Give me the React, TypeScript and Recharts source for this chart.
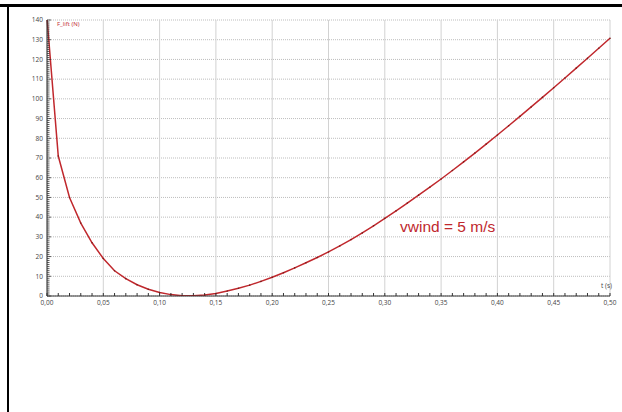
import React from 'react';
import { LineChart, Line, XAxis, YAxis, CartesianGrid } from 'recharts';

const tValues = [
  0.0, 0.01, 0.02, 0.03, 0.04, 0.05, 0.06, 0.07, 0.08, 0.09,
  0.1, 0.11, 0.12, 0.13, 0.14, 0.15, 0.16, 0.17, 0.18, 0.19,
  0.2, 0.21, 0.22, 0.23, 0.24, 0.25, 0.26, 0.27, 0.28, 0.29,
  0.3, 0.31, 0.32, 0.33, 0.34, 0.35, 0.36, 0.37, 0.38, 0.39,
  0.4, 0.41, 0.42, 0.43, 0.44, 0.45, 0.46, 0.47, 0.48, 0.49, 0.5,
];
const fLift = [
  141, 71, 50, 37, 27, 19, 12.8, 8.8, 5.7, 3.4,
  1.8, 0.7, 0.15, 0.1, 0.5, 1.3, 2.5, 3.9, 5.5, 7.4,
  9.5, 11.8, 14.25, 16.85, 19.55, 22.35, 25.4, 28.6, 32.0, 35.6,
  39.35, 43.2, 47.15, 51.15, 55.2, 59.35, 63.65, 68.05, 72.5, 77.05,
  81.65, 86.35, 91.1, 95.9, 100.75, 105.65, 110.6, 115.6, 120.6, 125.7, 130.75,
];

const xTicks = [0, 0.05, 0.1, 0.15, 0.2, 0.25, 0.3, 0.35, 0.4, 0.45, 0.5];
const yTicks = [0, 10, 20, 30, 40, 50, 60, 70, 80, 90, 100, 110, 120, 130, 140];
const xMinorTicks = Array.from({ length: 51 }, (_, i) => i / 100);
const yMinorTicks = Array.from({ length: 141 }, (_, i) => i);

const data = tValues.map((t, i) => ({ t, f: fLift[i] }));

const RED = '#c0282d';
const LABEL = '#444';
const fmt = (v: number) => v.toFixed(2).replace('.', ',');
const blank = () => '';

const YTick = (props: any) => {
  const { x, y, payload } = props;
  const v = payload.value;
  const major = v % 10 === 0;
  return (
    <g>
      <line x1={x + 3} x2={x + (major ? 7 : 5.5)} y1={y} y2={y} stroke="#333" strokeWidth={0.8} />
      {major && (
        <text x={x - 1} y={y} dy={2.3} textAnchor="end" fontSize={6.5} fill={LABEL} fontFamily="Open Sans">
          {v}
        </text>
      )}
    </g>
  );
};

export default function App() {
  return (
    <div style={{ position: 'absolute', left: 0, top: 0, width: 622, height: 412, background: '#fff' }}>
      <div style={{ position: 'absolute', left: 0, top: 4, width: 622, height: 2.5, background: '#000' }} />
      <div style={{ position: 'absolute', left: 7, top: 4, width: 2, height: 408, background: '#000' }} />
      <div style={{ position: 'absolute', left: 0, top: 0 }}>
        <LineChart
          width={622}
          height={412}
          data={data}
          margin={{ top: 20, right: 12, bottom: 96, left: 17 }}
        >
          <CartesianGrid vertical={false} stroke="#bdbdbd" strokeDasharray="1 1" horizontalValues={yTicks} />
          <CartesianGrid horizontal={false} stroke="#d2d2d2" />
          <XAxis
            xAxisId="minor"
            dataKey="t"
            type="number"
            domain={[0, 0.5]}
            ticks={xMinorTicks}
            interval={0}
            mirror
            tick={{ fontSize: 1, fill: 'none' }}
            tickFormatter={blank}
            tickSize={3}
            tickLine={{ stroke: '#333' }}
            axisLine={false}
            height={1}
          />
          <XAxis
            dataKey="t"
            type="number"
            domain={[0, 0.5]}
            ticks={xTicks}
            interval={0}
            tickFormatter={fmt}
            tickLine={false}
            tickSize={0}
            tickMargin={4}
            axisLine={{ stroke: '#333' }}
            tick={{ fontSize: 6.5, fill: LABEL, fontFamily: 'Open Sans' }}
            height={20}
          />
          <YAxis
            type="number"
            domain={[0, 140]}
            ticks={yMinorTicks}
            interval={0}
            tickLine={false}
            tickSize={0}
            tickMargin={3}
            axisLine={{ stroke: '#333' }}
            tick={<YTick />}
            width={30}
            allowDataOverflow
          />
          <Line
            type="linear"
            dataKey="f"
            stroke={RED}
            strokeWidth={1.5}
            dot={{ r: 0.8, fill: '#7a1a1a', stroke: 'none' }}
            isAnimationActive={false}
          />
          <text x={57} y={26} fontSize={6} fill={RED} fontFamily="Open Sans">F_lift (N)</text>
          <text x={601} y={288} fontSize={6.5} fill={LABEL} fontFamily="Open Sans">t (s)</text>
          <text x={400} y={232} fontSize={15.5} fill={RED} fontFamily="Liberation Sans, Arial, sans-serif">vwind = 5 m/s</text>
        </LineChart>
      </div>
    </div>
  );
}
